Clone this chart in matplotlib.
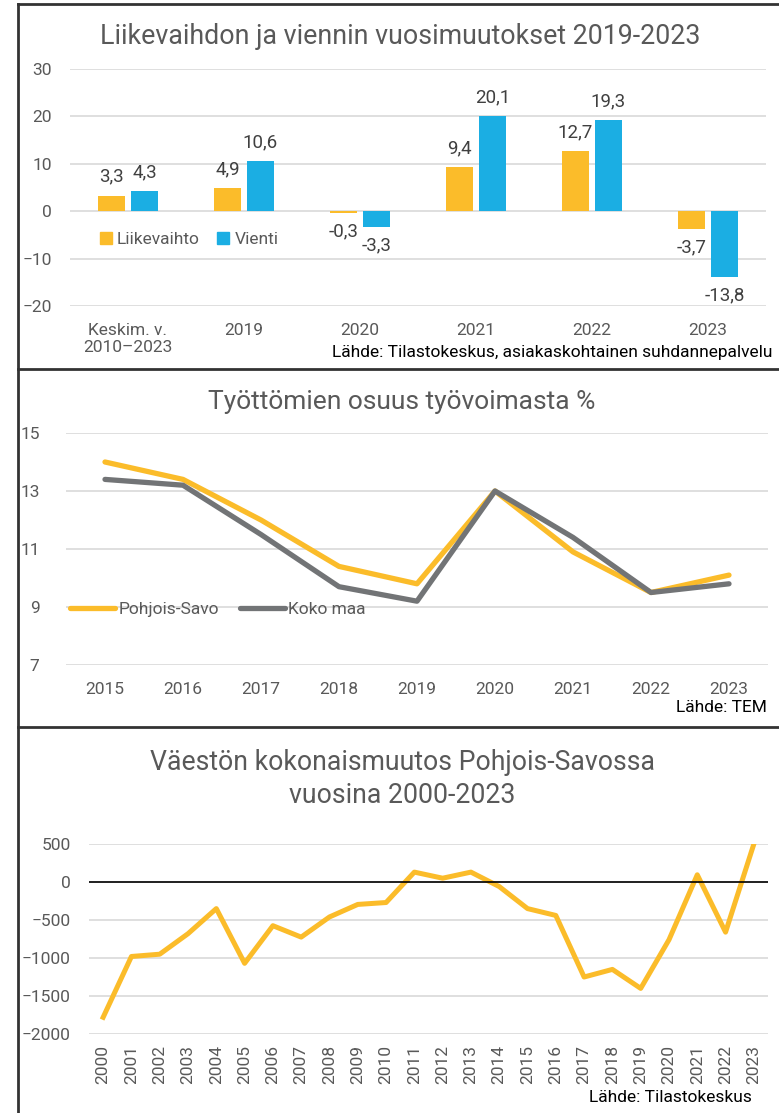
import matplotlib
matplotlib.use("Agg")
import matplotlib.pyplot as plt
from matplotlib.lines import Line2D
from matplotlib.patches import Patch
import numpy as np

plt.rcParams["font.family"] = ["Liberation Sans Narrow", "Roboto", "DejaVu Sans"]

# --- data ---
bar_categories = ["Keskim. v.\n2010\u20132023", "2019", "2020", "2021", "2022", "2023"]
liikevaihto = [3.3, 4.9, -0.3, 9.4, 12.7, -3.7]
vienti = [4.3, 10.6, -3.3, 20.1, 19.3, -13.8]

unemp_years = ["2015", "2016", "2017", "2018", "2019", "2020", "2021", "2022", "2023"]
pohjois_savo = [14.0, 13.4, 12.0, 10.4, 9.8, 13.0, 10.9, 9.5, 10.1]
koko_maa = [13.4, 13.2, 11.5, 9.7, 9.2, 13.0, 11.4, 9.5, 9.8]

pop_years = [str(y) for y in range(2000, 2024)]
pop_change = [-1780, -980, -950, -680, -350, -1070, -575, -725, -460, -295,
              -270, 130, 50, 130, -60, -350, -440, -1250, -1150, -1400,
              -760, 95, -660, 500]

YELLOW = "#FBBC2A"
BLUE = "#1BAEE3"
GREY_LINE = "#727476"
TEXT = "#595959"
GRID = "#D9D9D9"

W, H = 779, 1113
fig = plt.figure(figsize=(W / 100, H / 100), dpi=100)


def fx(px):
    return px / W


def fy(py):
    return 1 - py / H


def axes_px(left, top, right, bottom):
    return fig.add_axes([fx(left), fy(bottom), fx(right - left), (bottom - top) / H])


def style(ax):
    for s in ax.spines.values():
        s.set_visible(False)
    ax.tick_params(length=0, colors=TEXT, labelsize=12.5)
    ax.grid(axis="y", color=GRID, linewidth=1.2)
    ax.set_axisbelow(True)


# --- panel borders ---
for y in (4, 369, 727):
    fig.add_artist(Line2D([fx(18), 1.0], [fy(y), fy(y)], color="#333333", linewidth=2))
fig.add_artist(Line2D([fx(18), fx(18)], [fy(4), 0.0], color="#333333", linewidth=2))

# --- panel 1: bars ---
ax1 = axes_px(70, 69, 766, 306)
style(ax1)
x = np.arange(len(bar_categories))
w = 0.235
b1 = ax1.bar(x - 0.142, liikevaihto, w, color=YELLOW, label="Liikevaihto")
b2 = ax1.bar(x + 0.142, vienti, w, color=BLUE, label="Vienti")
ax1.bar_label(b1, labels=[f"{v:.1f}".replace(".", ",") for v in liikevaihto],
              padding=7, fontsize=13.5, color="#404040")
ax1.bar_label(b2, labels=[f"{v:.1f}".replace(".", ",") for v in vienti],
              padding=7, fontsize=13.5, color="#404040")
ax1.set_xlim(-0.5, len(bar_categories) - 0.5)
ax1.set_ylim(-20, 30)
ax1.set_yticks([-20, -10, 0, 10, 20, 30])
ax1.set_xticks(x)
ax1.set_xticklabels(bar_categories)
ax1.tick_params(axis="x", pad=12)
ax1.tick_params(axis="y", pad=13)
ax1.legend(handles=[Patch(color=YELLOW, label="Liikevaihto"), Patch(color=BLUE, label="Vienti")],
           loc="center left", bbox_to_anchor=(0.02, 0.28), ncol=2, frameon=False,
           fontsize=12.5, labelcolor=TEXT, handlelength=0.7, handleheight=0.7,
           handletextpad=0.3, columnspacing=1.0)
fig.text(fx(400), fy(37), "Liikevaihdon ja viennin vuosimuutokset 2019-2023",
         ha="center", va="center", fontsize=19.3, color=TEXT)
fig.text(fx(772), fy(353), "L\u00e4hde: Tilastokeskus, asiakaskohtainen suhdannepalvelu",
         ha="right", va="center", fontsize=12.5, color="black")

# --- panel 2: unemployment ---
ax2 = axes_px(66, 433, 768, 665)
style(ax2)
xi = np.arange(len(unemp_years))
ax2.plot(xi, pohjois_savo, color=YELLOW, linewidth=3.8, label="Pohjois-Savo",
         solid_capstyle="round", solid_joinstyle="round")
ax2.plot(xi, koko_maa, color=GREY_LINE, linewidth=3.8, label="Koko maa",
         solid_capstyle="round", solid_joinstyle="round")
ax2.set_xlim(-0.5, len(unemp_years) - 0.5)
ax2.set_ylim(7, 15)
ax2.set_yticks([7, 9, 11, 13, 15])
ax2.set_xticks(xi)
ax2.set_xticklabels(unemp_years)
ax2.tick_params(axis="x", pad=12)
ax2.tick_params(axis="y", pad=19)
ax2.legend(loc="center left", bbox_to_anchor=(-0.017, 0.241), ncol=2, frameon=False,
           fontsize=12.5, labelcolor=TEXT, handlelength=2.6, handletextpad=0.2,
           columnspacing=1.2)
fig.text(fx(402), fy(402), "Ty\u00f6tt\u00f6mien osuus ty\u00f6voimasta %",
         ha="center", va="center", fontsize=19, color=TEXT)
fig.text(fx(767), fy(707), "L\u00e4hde: TEM", ha="right", va="center",
         fontsize=12.5, color="black")

# --- panel 3: population change ---
ax3 = axes_px(89, 844, 768, 1034)
style(ax3)
xp = np.arange(len(pop_years))
ax3.plot(xp, pop_change, color=YELLOW, linewidth=3.6, solid_joinstyle="round")
ax3.axhline(0, color="black", linewidth=1.2)
ax3.set_xlim(-0.5, len(pop_years) - 0.5)
ax3.set_ylim(-2000, 500)
ax3.set_yticks([-2000, -1500, -1000, -500, 0, 500])
ax3.set_xticks(xp)
ax3.set_xticklabels(pop_years, rotation=90)
ax3.tick_params(axis="x", pad=8)
ax3.tick_params(axis="y", pad=13)
fig.text(fx(402), fy(779), "V\u00e4est\u00f6n kokonaismuutos Pohjois-Savossa\nvuosina 2000-2023",
         ha="center", va="center", fontsize=19.2, color=TEXT, linespacing=1.3)
fig.text(fx(752), fy(1098), "L\u00e4hde: Tilastokeskus", ha="right", va="center",
         fontsize=12.5, color="black")

fig.savefig("out.png", dpi=100)
